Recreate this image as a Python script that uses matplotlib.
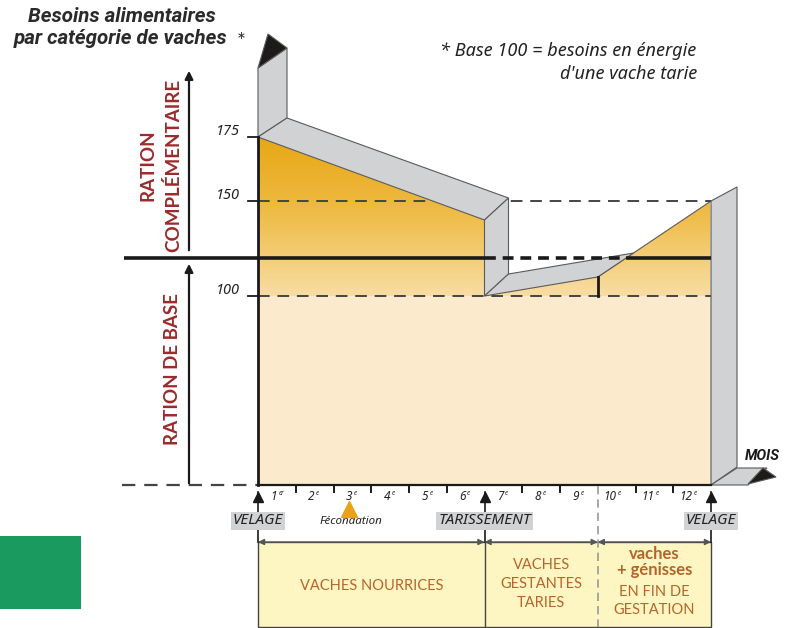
import numpy as np
import matplotlib
matplotlib.use('Agg')
import matplotlib.pyplot as plt
import matplotlib.transforms as mtransforms
from matplotlib.patches import Polygon, Rectangle
from matplotlib.colors import LinearSegmentedColormap

# ---- data ----
curve_months = [0, 6, 6, 9, 12]
curve_needs = [175, 140, 100, 110, 150]
base_level = 100
threshold_level = 120
tick_levels = [175, 150, 100]
tick_labels = ['175', '150', '100']
month_numbers = [str(i) for i in range(1, 13)]
month_suffix = ['er'] + ['e'] * 11
event_months = [0, 6, 12]
event_labels = ['VELAGE', 'TARISSEMENT', 'VELAGE']
fecondation_month = 2.4
phase_bounds = [0, 6, 9, 12]

# schematic (non linear) vertical axis of the drawing: level -> pixel from bottom
scale_levels = [-400, 0, 100, 150, 175, 500]
scale_pos = [-613, 143, 332, 427, 491, 1323]

W, H = 799, 628
FONT = 'Lato'
IFONT = 'Noto Sans'
BIFONT = 'Roboto'
RED = '#9C2B2B'
BROWN = '#B5652C'
GRAY = '#D1D2D4'
EDGE = '#5a5a5a'


def fwd(v):
    return np.interp(v, scale_levels, scale_pos)


def inv(u):
    return np.interp(u, scale_pos, scale_levels)


fig = plt.figure(figsize=(W / 100, H / 100), dpi=100)
ax = fig.add_axes([0, 0, 1, 1])
ax.set_xlim(-258 / 37.75, (W - 258) / 37.75)
ax.set_yscale('function', functions=(fwd, inv))
ax.set_ylim(inv(0.0), inv(float(H)))
ax.axis('off')

# pixel transform (origin top-left) and blended month/pixel transform
PIX = mtransforms.Affine2D().scale(1, -1).translate(0, H)
BX = mtransforms.blended_transform_factory(ax.transData, PIX)


def D(m, v):
    x, y = ax.transData.transform((m, v))
    return np.array([x, H - y])


def gpoly(pts, fc=GRAY, z=4):
    ax.add_patch(Polygon(pts, closed=True, facecolor=fc, edgecolor=EDGE,
                         lw=0.8, transform=PIX, zorder=z))


# ---- fills ----
ax.add_patch(Rectangle((0, 0), 12, base_level, facecolor='#FBEACB',
                       edgecolor='none', zorder=1))
orange_pts = [(0, base_level)] + list(zip(curve_months, curve_needs)) + [(12, base_level)]
orange = Polygon(orange_pts, closed=True, facecolor='none', edgecolor='none', zorder=2)
ax.add_patch(orange)
cmap = LinearSegmentedColormap.from_list('gold', ['#E8A714', '#F0C052', '#F8DDA3'])
grad = np.linspace(0, 1, 256).reshape(-1, 1)
im = ax.imshow(grad, cmap=cmap, aspect='auto', origin='upper',
               extent=(0, 12, base_level, max(curve_needs)), zorder=2)
im.set_clip_path(orange)
ax.plot(curve_months[3:], curve_needs[3:], color=EDGE, lw=0.8, zorder=3)

# ---- dashed reference lines ----
dash = dict(color='#444444', lw=1.4, dashes=(6, 4), zorder=3)
ax.plot([0, 12], [150, 150], **dash)
ax.plot([0, 12], [base_level, base_level], **dash)
ax.plot([-3.6, 0], [0, 0], **dict(dash, lw=1.6))

# ---- 3D grey bands ----
A = D(curve_months[0], curve_needs[0])
B = D(curve_months[1], curve_needs[1])
C = D(curve_months[2], curve_needs[2])
E = D(curve_months[3], curve_needs[3])
F = D(curve_months[4], curve_needs[4])
G = D(12, 0)
o1 = np.array([29, -19])
o2 = np.array([24, -22])

gpoly([A, A + [0, -69], A + [29, -89], A + o1])
gpoly([A + [0, -69], A + [10, -103], A + [29, -89]], fc='#1e1a1a')
gpoly([A, A + o1, B + o2, B])
gpoly([B, B + o2, C + o2, C])
# lower band: back edge parallel to C-E, cut by the rising line E-F
d1 = E - C
d2 = F - E
P0 = C + o2
t = np.cross(E - P0, d2) / np.cross(d1, d2)
X = P0 + t * d1
gpoly([C, C + o2, X, E])
gpoly([F, F + [26, -14], G + [26, -18], G])
gpoly([G, G + [26, -17], G + [56, -17], G + [37, 0]])
gpoly([G + [37, -1], G + [52, -17], G + [65, -8]], fc='#1e1a1a')

# ---- threshold (ration de base / complementaire) ----
x_cross = np.interp(threshold_level, curve_needs[3:], curve_months[3:])
thick = dict(color='#1a1a1a', lw=2.6, zorder=5, solid_capstyle='butt')
ax.plot([-3.55, 6], [threshold_level] * 2, **thick)
ax.plot([6, x_cross], [threshold_level] * 2, dashes=(3, 1.9), **thick)
ax.plot([x_cross, 12], [threshold_level] * 2, **thick)
ax.plot([9, 9], [base_level, curve_needs[3]], color='#1a1a1a', lw=2, zorder=5)

# axes lines
ax.plot([0, 0], [0, curve_needs[0]], color='#1a1a1a', lw=2, zorder=6)
ax.plot([0, 12], [0, 0], color='#1a1a1a', lw=1.6, zorder=6)

# y ticks
for lv, lb in zip(tick_levels, tick_labels):
    ax.plot([-0.27, 0], [lv, lv], color='#1a1a1a', lw=1.3, zorder=6)
    ax.annotate(lb, xy=(0, lv), xytext=(-13, 4), textcoords='offset points',
                ha='right', va='center', fontsize=10.5, style='italic',
                family=IFONT, color='#222222')

# ---- left arrows and labels ----
arr = dict(arrowstyle='-|>', color='#1a1a1a', lw=1.6, mutation_scale=12)
ax.annotate('', xy=(189, 68), xytext=(189, 253), xycoords=PIX, textcoords=PIX,
            arrowprops=arr)
ax.annotate('', xy=(189, 261), xytext=(189, 486), xycoords=PIX, textcoords=PIX,
            arrowprops=arr)
tk = dict(rotation=90, ha='center', va='center', color=RED, fontsize=13.5,
          fontweight='bold', family=FONT, transform=PIX)
ax.text(148, 165, 'RATION', **tk)
ax.text(173, 165, 'COMPLÉMENTAIRE', **tk)
ax.text(173, 369, 'RATION DE BASE', **tk)

# ---- titles ----
tt = dict(transform=PIX, ha='center', va='center', fontsize=14.8, fontweight='bold',
          style='italic', family=BIFONT, color='#2a2a2a')
ax.text(122, 17, 'Besoins alimentaires', **tt)
ax.text(121, 38, 'par catégorie de vaches', **tt)
ax.text(241, 42, '*', transform=PIX, ha='center', va='center', fontsize=15,
        family=FONT, color='#2a2a2a')
note = dict(transform=PIX, va='center', fontsize=13, style='italic', family=IFONT,
            color='#222222')
ax.text(440, 51, '* Base 100 = besoins en énergie', ha='left', **note)
ax.text(697, 74, "d'une vache tarie", ha='right', **note)
ax.text(762, 456, 'MOIS', transform=PIX, ha='center', va='center', fontsize=10.5,
        fontweight='bold', style='italic', family=BIFONT, color='#1a1a1a')

# ---- month axis ----
for i in range(1, 12):
    if i in event_months or i == 9:
        continue
    ax.plot([i, i], [486, 492], color='#1a1a1a', lw=1.4, transform=BX, zorder=6)
for i, (num, suf) in enumerate(zip(month_numbers, month_suffix)):
    xc = i + 0.5
    ax.text(xc, 496, num, transform=BX, ha='right', va='center', fontsize=8.5,
            style='italic', family=IFONT, color='#222222')
    ax.annotate(suf, xy=(xc, 496), xycoords=BX, xytext=(1, 1.5),
                textcoords='offset points', ha='left', va='center', fontsize=4.5,
                style='italic', family=IFONT, color='#222222')

# dashed divider at month 9
ax.plot([phase_bounds[2]] * 2, [486, 627], transform=BX, color='#9a9a9a', lw=1.2,
        dashes=(5, 3), zorder=6)

# event arrows and labels
for m, lb in zip(event_months, event_labels):
    ax.plot([m, m], [492, 542], transform=BX, color='#1a1a1a', lw=1.2, zorder=6)
    ax.plot([m], [497], transform=BX, marker='^', ms=7, color='#1a1a1a', zorder=7)
    ax.text(m, 521, lb, transform=BX, ha='center', va='center', fontsize=11,
            style='italic', family=IFONT, color='#222222', zorder=8,
            bbox=dict(boxstyle='square,pad=0.12', facecolor=GRAY, edgecolor='none'))

ax.plot([fecondation_month], [509], transform=BX, marker='^', ms=11,
        color='#E8A317', zorder=7)
ax.text(fecondation_month + 0.05, 522, 'Fécondation', transform=BX, ha='center',
        va='center', fontsize=8.3, style='italic', family=IFONT, color='#222222')

# ---- bottom phase boxes ----
ax.add_patch(Rectangle((phase_bounds[0], 542), phase_bounds[-1] - phase_bounds[0], 85,
                       transform=BX, facecolor='#FEF6C2', edgecolor='#444444',
                       lw=1.0, zorder=2))
ax.plot([phase_bounds[1]] * 2, [542, 627], transform=BX, color='#444444', lw=1.0, zorder=3)
for a, b in zip(phase_bounds[:-1], phase_bounds[1:]):
    ax.annotate('', xy=(b, 542), xytext=(a, 542), xycoords=BX, textcoords=BX,
                arrowprops=dict(arrowstyle='<|-|>', color='#555555', lw=1.0,
                                mutation_scale=9, shrinkA=0, shrinkB=0), zorder=7)

bt = dict(transform=BX, ha='center', va='center', fontsize=10.5, family=FONT,
          color=BROWN, linespacing=1.45)
ax.text(3, 586, 'VACHES NOURRICES', **bt)
ax.text(7.5, 584, 'VACHES\nGESTANTES\nTARIES', **bt)
ax.text(10.5, 562, 'vaches\n+ génisses', fontweight='bold',
        **dict(bt, fontsize=12, linespacing=1.0))
ax.text(10.5, 601, 'EN FIN DE\nGESTATION', **bt)

# green block
ax.add_patch(Rectangle((0, 536), 81, 73, transform=PIX, facecolor='#1A9A5E',
                       edgecolor='none', zorder=2))

fig.savefig('out.png', dpi=100)
